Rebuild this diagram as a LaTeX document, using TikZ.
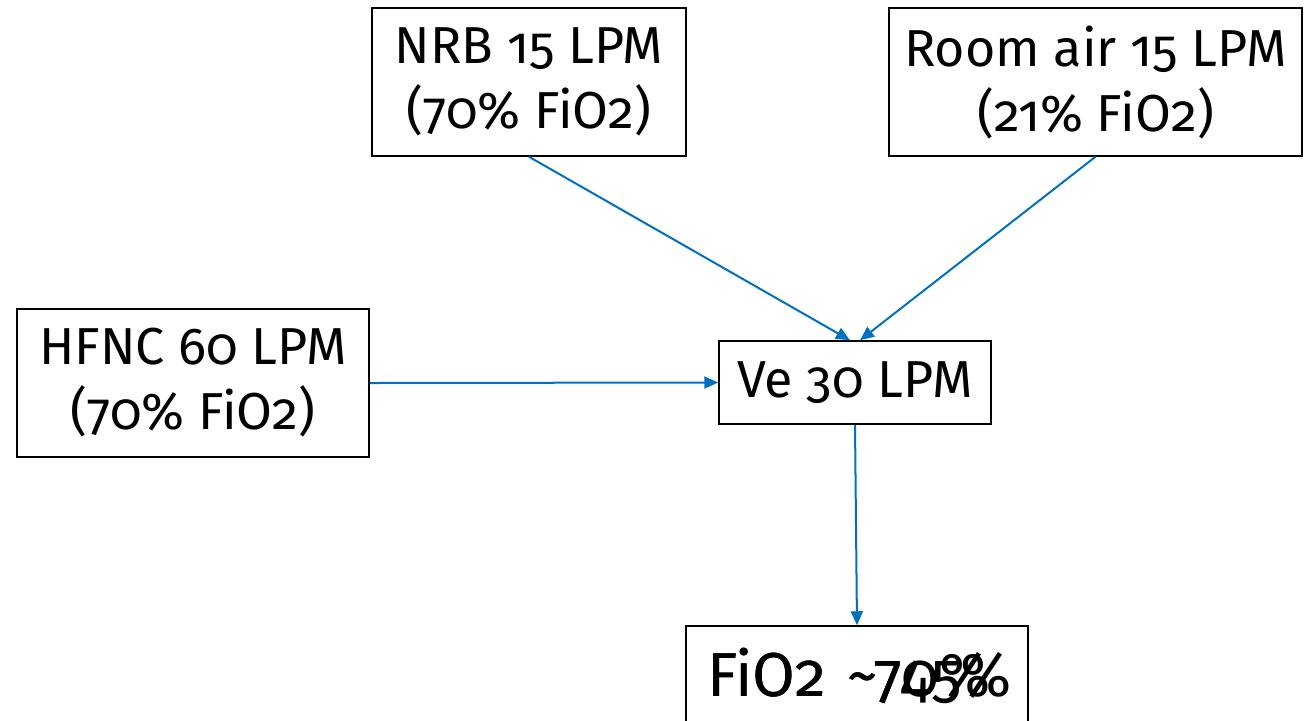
\documentclass[tikz,border=0pt]{standalone}
\usepackage{fontspec}
\setmainfont{Fira Sans}[Numbers=OldStyle]
\usetikzlibrary{arrows.meta,positioning}
\definecolor{flowblue}{RGB}{0,112,192}

\begin{document}
\begin{tikzpicture}[>={Triangle[length=7pt,width=6pt]},x=0.5pt,y=-0.5pt,
  box/.style={draw,line width=0.75pt,inner sep=0pt,align=center,
    font=\fontsize{26}{32.5}\selectfont},
  flow/.style={->,draw=flowblue,fill=flowblue,line width=1pt}]

\useasboundingbox (0,0) rectangle (1312,720);

\node[box,minimum width=157pt,minimum height=74pt]   (nrb)  at (529,82)    {NRB 15 LPM\\(70\% FiO2)};
\node[box,minimum width=206.5pt,minimum height=74pt] (room) at (1095.5,82) {Room air 15 LPM\\(21\% FiO2)};
\node[box,minimum width=176pt,minimum height=74pt]   (hfnc) at (193,383)   {HFNC 60 LPM\\(70\% FiO2)};
\node[box,minimum width=136pt,minimum height=41.5pt] (ve)   at (855,382.5) {Ve 30 LPM};

%overlapping leftover text from the slide
\node[box,minimum width=171pt,minimum height=54pt,text width=150pt,align=left,
  font=\fontsize{31}{36}\selectfont,text height=22pt,text depth=6pt] (fio) at (857,680)
  {\mbox{\rlap{FiO2 \textasciitilde70\%}FiO2 \textasciitilde745\%}};

\draw[flow] (nrb.south)  -- ([xshift=-2.5pt]ve.north);
\draw[flow] (room.south) -- ([xshift=2.5pt]ve.north);
\draw[flow] (hfnc.east)  -- (ve.west);
\draw[flow] (ve.south)   -- (fio.north);
\end{tikzpicture}
\end{document}
